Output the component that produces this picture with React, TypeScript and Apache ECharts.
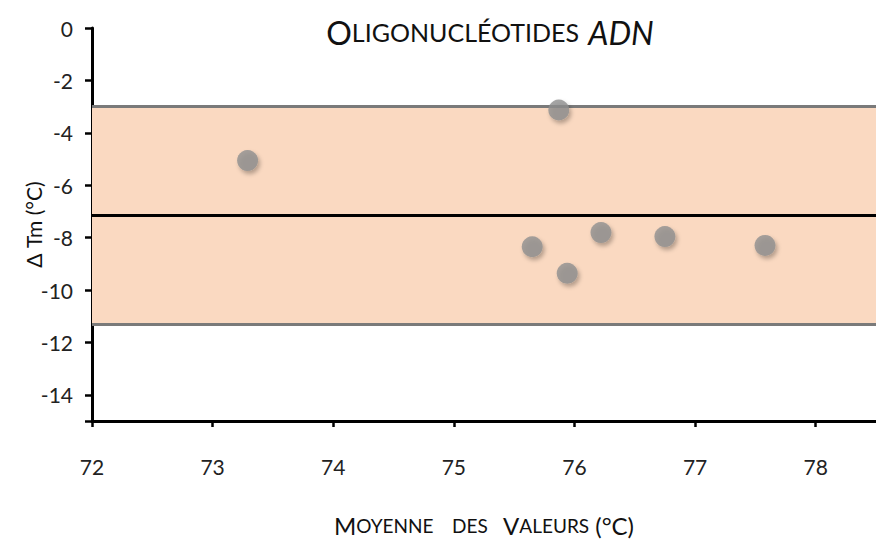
import React, { useEffect, useRef } from "react";
import * as echarts from "echarts";

const meanValues = [73.29, 75.87, 75.65, 75.94, 76.22, 76.75, 77.58];
const diffValues = [-5.06, -3.13, -8.35, -9.36, -7.81, -7.96, -8.3];
const upperLimit = -3.0;
const meanDiff = -7.15;
const lowerLimit = -11.3;
const xTicks = [72, 73, 74, 75, 76, 77, 78];
const yLabels = [0, -2, -4, -6, -8, -10, -12, -14];
const yTicks = [0, -2, -4, -6, -8, -10, -12, -14, -15];

const FONT = "Lato, 'Open Sans', sans-serif";

export default function App() {
  const ref = useRef<HTMLDivElement>(null);
  useEffect(() => {
    if (!ref.current) return;
    const chart = echarts.init(ref.current, null, { renderer: "svg" });
    const points = meanValues.map((m, i) => [m, diffValues[i]]);
    chart.setOption({
      animation: false,
      backgroundColor: "#ffffff",
      textStyle: { fontFamily: FONT },
      title: {
        text: "{a|O}{b|LIGONUCLÉOTIDES}  {c|ADN}",
        left: 485,
        top: 11,
        textAlign: "center",
        textStyle: {
          fontWeight: "normal",
          rich: {
            a: { fontFamily: FONT, fontSize: 32, fontWeight: "normal", color: "#111" },
            b: { fontFamily: FONT, fontSize: 25, fontWeight: "normal", color: "#111" },
            c: { fontFamily: FONT, fontSize: 32, fontWeight: "normal", fontStyle: "italic", color: "#111" },
          },
        },
      },
      grid: { left: 92, right: 0, top: 28, bottom: 118 },
      xAxis: {
        type: "value",
        min: 72,
        max: 78.5,
        interval: 1,
        name: "{a|M}{b|OYENNE}      {b|DES}     {a|V}{b|ALEURS}  {a|(°C)}",
        nameLocation: "middle",
        nameGap: 92,
        nameTextStyle: {
          rich: {
            a: { fontFamily: FONT, fontSize: 24, color: "#111" },
            b: { fontFamily: FONT, fontSize: 19, color: "#111" },
          },
        },
        splitLine: { show: false },
        axisLine: { onZero: false, lineStyle: { color: "#000", width: 3 } },
        axisTick: {
          customValues: xTicks,
          length: 6,
          lineStyle: { color: "#000", width: 2.5 },
        },
        axisLabel: {
          customValues: xTicks,
          margin: 35,
          fontSize: 21,
          fontFamily: FONT,
          color: "#222",
        },
      },
      yAxis: {
        type: "value",
        min: -15,
        max: 0,
        name: "Δ Tm (°C)",
        nameLocation: "middle",
        nameGap: 48,
        nameMoveOverlap: false,
        nameRotate: 90,
        nameTextStyle: { fontFamily: FONT, fontSize: 21, color: "#111" },
        splitLine: { show: false },
        axisLine: { onZero: false, lineStyle: { color: "#000", width: 3 } },
        axisTick: {
          customValues: yTicks,
          length: 7,
          lineStyle: { color: "#000", width: 2.5 },
        },
        axisLabel: {
          customValues: yLabels,
          margin: 19,
          fontSize: 21,
          fontFamily: FONT,
          color: "#222",
        },
      },
      series: [
        {
          type: "scatter",
          data: points,
          symbolSize: 21,
          z: 5,
          itemStyle: {
            color: "#8e8e8e",
            shadowBlur: 4,
            shadowOffsetX: 2,
            shadowOffsetY: 3,
            shadowColor: "rgba(0,0,0,0.35)",
          },
          markArea: {
            silent: true,
            itemStyle: { color: "#fad9c1", borderWidth: 0 },
            data: [[{ yAxis: upperLimit }, { yAxis: lowerLimit }]],
          },
          markLine: {
            silent: true,
            symbol: "none",
            label: { show: false },
            data: [
              { yAxis: upperLimit, lineStyle: { color: "#7a7a7a", width: 3, type: "solid" } },
              { yAxis: lowerLimit, lineStyle: { color: "#7a7a7a", width: 3, type: "solid" } },
              { yAxis: meanDiff, lineStyle: { color: "#000", width: 3, type: "solid" } },
            ],
          },
        },
      ],
    });
    return () => chart.dispose();
  }, []);
  return (
    <div
      ref={ref}
      style={{ position: "absolute", left: 0, top: 0, width: 876, height: 542 }}
    />
  );
}
